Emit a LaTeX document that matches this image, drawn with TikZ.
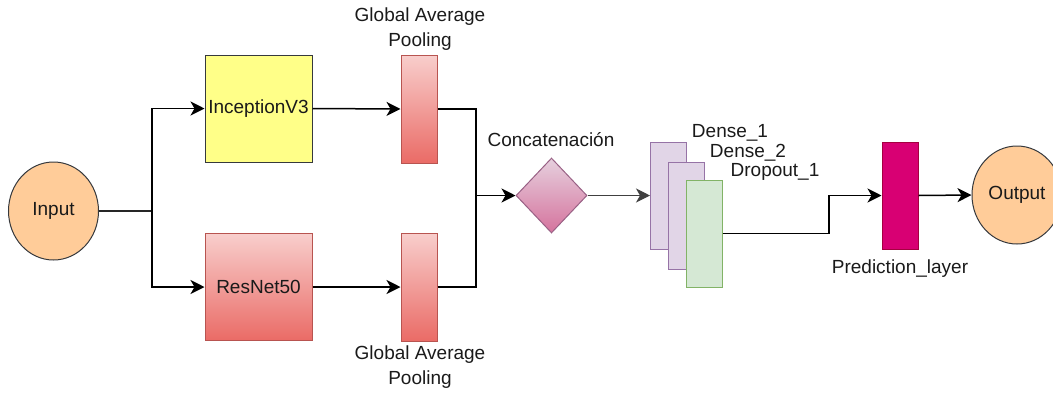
\documentclass[tikz,border=0pt]{standalone}
\usepackage{fontspec}
\setmainfont{Liberation Sans}
\usetikzlibrary{arrows.meta,shapes.geometric}
\definecolor{txt}{HTML}{1A1A1A}
\definecolor{orgfill}{HTML}{FFCC99}
\definecolor{dkstroke}{HTML}{36393D}
\definecolor{yelfill}{HTML}{FFFF88}
\definecolor{redtop}{HTML}{F8CECC}
\definecolor{redbot}{HTML}{EA6B66}
\definecolor{redstroke}{HTML}{B85450}
\definecolor{pinktop}{HTML}{E6D0DE}
\definecolor{pinkbot}{HTML}{D5739D}
\definecolor{pinkstroke}{HTML}{996185}
\definecolor{purfill}{HTML}{E1D5E7}
\definecolor{purstroke}{HTML}{9673A6}
\definecolor{grnfill}{HTML}{D5E8D4}
\definecolor{grnstroke}{HTML}{82B366}
\definecolor{magfill}{HTML}{D80073}
\definecolor{magstroke}{HTML}{A50040}
\tikzset{
  every node/.style={font=\fontsize{19}{25}\selectfont, text=txt},
  ioell/.style={ellipse, draw=dkstroke, fill=orgfill, line width=1pt, minimum width=90pt, minimum height=98pt, inner sep=0pt},
  bigbox/.style={rectangle, line width=1pt, minimum width=107pt, minimum height=107pt, inner sep=0pt},
  poolbox/.style={rectangle, draw=redstroke, line width=1pt, top color=redtop, bottom color=redbot, minimum width=36pt, minimum height=108pt, inner sep=0pt},
  layerbox/.style={rectangle, line width=1pt, minimum width=36pt, minimum height=107pt, inner sep=0pt},
  lbl/.style={inner sep=0pt, align=center},
  conn/.style={draw=black, line width=1.5pt, arrows={-Stealth[length=14pt,width=14pt,inset=4pt]}},
  thinconn/.style={draw=black!75, line width=1.1pt, arrows={-Stealth[length=14pt,width=14pt,inset=4pt]}},
  plain/.style={draw=black, line width=1.5pt},
}
\begin{document}
\begin{tikzpicture}[x=1pt,y=-1pt]
\useasboundingbox (0,0) rectangle (1053,392);
\node[ioell] (in) at (53.5,211) {Input};
\node[bigbox, draw=dkstroke, fill=yelfill] (inc) at (258.5,108.5) {InceptionV3};
\node[bigbox, draw=redstroke, top color=redtop, bottom color=redbot] (res) at (258.5,287) {ResNet50};
\node[poolbox] (p1) at (419,109) {};
\node[poolbox] (p2) at (419,287) {};
\node[lbl] (p1l) at (420,29.5) {Global Average\\Pooling};
\node[lbl] (p2l) at (420,367) {Global Average\\Pooling};
\node[diamond, draw=pinkstroke, line width=1pt, top color=pinktop, bottom color=pinkbot, minimum width=71pt, minimum height=75pt, inner sep=0pt, aspect=0.95] (cat) at (551.5,195.5) {};
\node[lbl] (catl) at (551,140) {Concatenación};
\node[layerbox, draw=purstroke, fill=purfill] (d1) at (668.5,195.5) {};
\node[layerbox, draw=purstroke, fill=purfill] (d2) at (686,215.5) {};
\node[layerbox, draw=grnstroke, fill=grnfill] (dr) at (704,233.5) {};
\node[lbl] (d1l) at (730,133) {Dense\_1};
\node[lbl] (d2l) at (748,153) {Dense\_2};
\node[lbl] (drl) at (775,172) {Dropout\_1};
\node[layerbox, draw=magstroke, fill=magfill] (pred) at (900,195.5) {};
\node[lbl] (predl) at (900,269) {Prediction\_layer};
\node[ioell] (out) at (1017,195) {Output};

\coordinate (j1) at (152,211);
\coordinate (j2) at (476,195.5);
\coordinate (j3) at (829,233.5);

\draw[line width=2.2pt, draw=black!85] (in.east) -- (j1);
\draw[conn] (j1) |- (inc.west);
\draw[conn] (j1) |- (res.west);
\draw[conn] (inc.east) -- (p1.west);
\draw[conn] (res.east) -- (p2.west);
\draw[plain] (p1.east) -| (j2);
\draw[plain] (p2.east) -| (j2);
\draw[conn] (j2) -- (cat.west);
\draw[thinconn] (cat.east) -- (d1.west);
\draw[conn] (dr.east) -- (j3) |- (pred.west);
\draw[conn] (pred.east) -- (out.west);
\end{tikzpicture}
\end{document}
